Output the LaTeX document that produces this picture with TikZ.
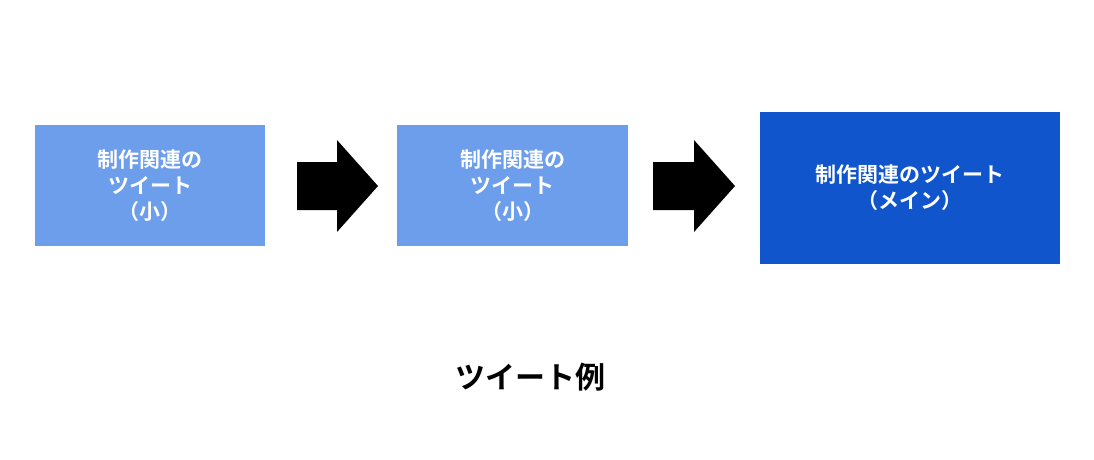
\documentclass[tikz,border=0pt]{standalone}
\usepackage{fontspec}
\newfontfamily\cjk{Noto Sans CJK JP Bold}
\definecolor{lightb}{HTML}{6D9EEB}
\definecolor{darkb}{HTML}{1155CC}
\begin{document}
\begin{tikzpicture}[x=1pt,y=1pt,
  box/.style={inner sep=0pt,align=center,text=white,font=\cjk\fontsize{21}{26}\selectfont}]
\useasboundingbox (0,0) rectangle (1094,459);
\fill[white] (0,0) rectangle (1094,459);
\node[box,fill=lightb,minimum width=230pt,minimum height=121pt] (b1) at (150,273.5) {制作関連の\\ツイート\\（小）};
\node[box,fill=lightb,minimum width=231pt,minimum height=121pt] (b2) at (512.5,273.5) {制作関連の\\ツイート\\（小）};
\node[box,fill=darkb,minimum width=300pt,minimum height=152pt] (b3) at (910,271) {制作関連のツイート\\（メイン）};
\fill[black] (297,297) -- (337,297) -- (337,319) -- (378,273) -- (337,227) -- (337,249) -- (297,249) -- cycle;
\fill[black] (653,297) -- (694,297) -- (694,319) -- (735,273) -- (694,227) -- (694,249) -- (653,249) -- cycle;
\node[font=\cjk\fontsize{30}{36}\selectfont] (cap) at (530,82) {ツイート例};
\end{tikzpicture}
\end{document}
